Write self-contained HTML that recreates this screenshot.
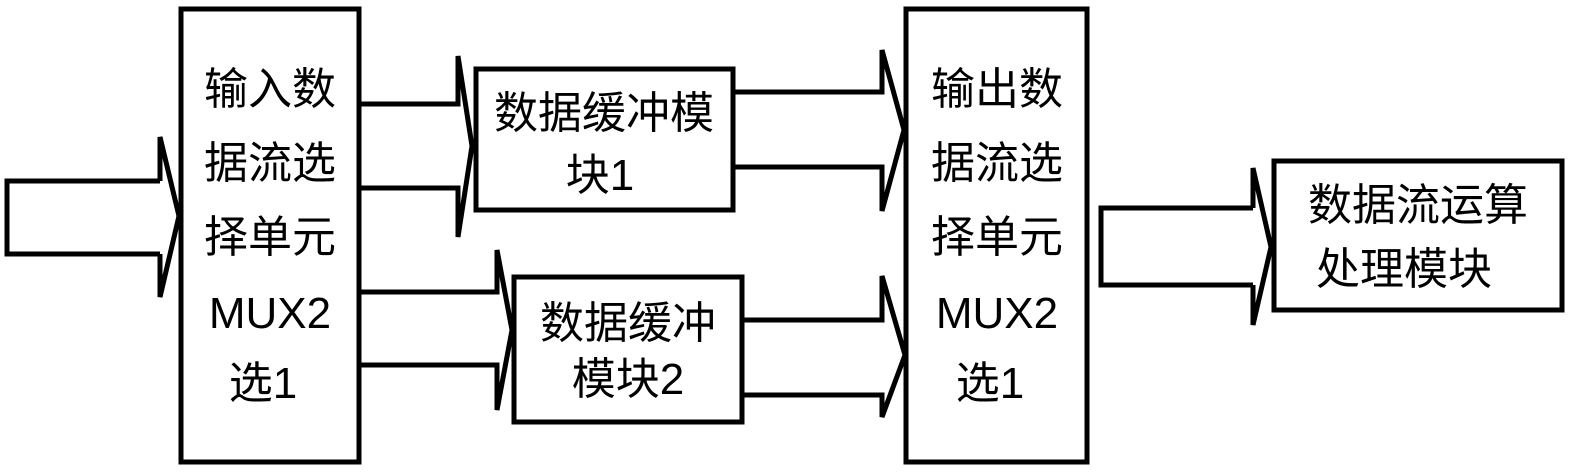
<!DOCTYPE html>
<html><head><meta charset="utf-8"><style>
html,body{margin:0;padding:0;background:#fff;}
svg{display:block;}
text{font-family:"Liberation Sans","Noto Sans CJK SC",sans-serif;font-size:44px;fill:#000;text-anchor:middle;}
</style></head><body>
<svg width="1573" height="472" viewBox="0 0 1573 472" xmlns="http://www.w3.org/2000/svg">
<g fill="none" stroke="#000" stroke-width="5" stroke-linejoin="miter">
<!-- boxes -->
<rect x="181" y="9" width="178" height="453"/>
<rect x="476" y="69" width="257" height="141"/>
<rect x="514" y="277" width="228" height="145"/>
<rect x="906" y="9" width="181" height="453"/>
<rect x="1274" y="161" width="288" height="149"/>
<!-- input arrow -->
<polyline points="160,181 7,181 7,254 160,254"/>
<polyline points="160,181 160,137 179,216 160,297 160,254"/>
<!-- to buffer1 -->
<polyline points="359,104 458,104 458,56 472,146 458,237 458,188 359,188"/>
<!-- to buffer2 -->
<polyline points="359,292 497,292 497,250 512,330 497,410 497,365 359,365"/>
<!-- buffer1 out -->
<polyline points="733,92 882,92 882,50 904,130 882,211 882,167 733,167"/>
<!-- buffer2 out -->
<polyline points="742,320 882,320 882,276 905,355 882,417 882,395 742,395"/>
<!-- output arrow -->
<polyline points="1253,208 1101,208 1101,285 1253,285"/>
<polyline points="1253,208 1253,168 1271,247 1253,325 1253,285"/>
</g>
<text x="270" y="104">输入数</text>
<text x="270" y="178">据流选</text>
<text x="270" y="252">择单元</text>
<text x="270" y="328">MUX2</text>
<text x="263" y="398">选1</text>
<text x="604" y="128">数据缓冲模</text>
<text x="600" y="190">块1</text>
<text x="628" y="338">数据缓冲</text>
<text x="628" y="394">模块2</text>
<text x="997" y="104">输出数</text>
<text x="997" y="178">据流选</text>
<text x="997" y="252">择单元</text>
<text x="997" y="328">MUX2</text>
<text x="990" y="398">选1</text>
<text x="1418" y="220">数据流运算</text>
<text x="1404" y="284">处理模块</text>
</svg>
</body></html>
